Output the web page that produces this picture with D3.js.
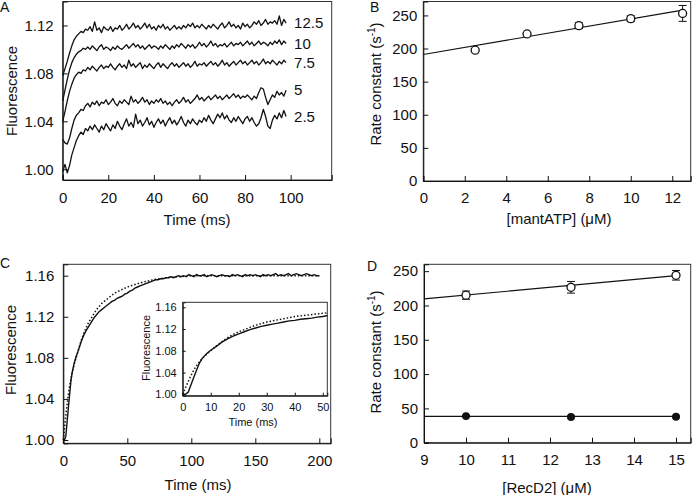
<!DOCTYPE html>
<html>
<head>
<meta charset="utf-8">
<script src="https://cdn.jsdelivr.net/npm/d3@7"></script>
<style>
  body { margin: 0; background: #fff; }
  svg { display: block; font-family: "Liberation Sans", Arial, sans-serif; }
</style>
</head>
<body>
<svg width="693" height="495"></svg>
<script>
// ---- Panel A: stopped-flow traces, one sample per ms ----
const aDt = 1;
const aLabels = ["12.5", "10", "7.5", "5", "2.5"];
const trace125 = [
  1.078,1.084,1.090,1.097,1.103,1.108,1.111,1.113,1.115,1.114,
  1.117,1.116,1.119,1.115,1.123,1.116,1.118,1.114,1.119,1.117,
  1.116,1.119,1.115,1.118,1.117,1.120,1.116,1.118,1.121,1.117,
  1.119,1.122,1.118,1.120,1.117,1.119,1.122,1.118,1.121,1.117,
  1.119,1.116,1.120,1.118,1.121,1.117,1.119,1.116,1.118,1.120,
  1.117,1.119,1.117,1.120,1.118,1.121,1.119,1.122,1.118,1.120,
  1.118,1.121,1.119,1.117,1.120,1.118,1.121,1.119,1.117,1.120,
  1.122,1.118,1.120,1.123,1.119,1.121,1.118,1.120,1.117,1.122,
  1.119,1.121,1.118,1.120,1.123,1.121,1.124,1.120,1.122,1.125,
  1.121,1.123,1.122,1.124,1.121,1.128,1.120,1.125,1.122];
const trace10 = [
  1.057,1.066,1.075,1.083,1.089,1.093,1.096,1.098,1.099,1.101,
  1.100,1.102,1.100,1.103,1.101,1.099,1.102,1.104,1.100,1.102,
  1.101,1.099,1.102,1.100,1.103,1.101,1.100,1.102,1.104,1.101,
  1.103,1.105,1.102,1.104,1.101,1.103,1.100,1.102,1.104,1.101,
  1.103,1.102,1.100,1.103,1.101,1.104,1.102,1.100,1.103,1.101,
  1.104,1.102,1.105,1.103,1.101,1.104,1.102,1.104,1.101,1.103,
  1.106,1.103,1.105,1.102,1.104,1.107,1.103,1.105,1.102,1.104,
  1.103,1.105,1.102,1.104,1.106,1.103,1.105,1.104,1.106,1.103,
  1.105,1.107,1.104,1.106,1.103,1.105,1.107,1.104,1.106,1.105,
  1.103,1.106,1.104,1.107,1.105,1.108,1.104,1.107,1.105];
const trace75 = [
  1.040,1.048,1.057,1.065,1.071,1.076,1.079,1.081,1.080,1.083,
  1.082,1.085,1.083,1.086,1.084,1.082,1.085,1.087,1.084,1.086,
  1.085,1.088,1.085,1.083,1.086,1.088,1.085,1.087,1.084,1.091,
  1.086,1.088,1.085,1.087,1.089,1.084,1.087,1.085,1.088,1.086,
  1.084,1.087,1.089,1.085,1.088,1.086,1.084,1.087,1.089,1.086,
  1.088,1.085,1.087,1.089,1.086,1.088,1.085,1.087,1.090,1.086,
  1.088,1.087,1.089,1.086,1.088,1.090,1.087,1.089,1.086,1.088,
  1.091,1.087,1.089,1.086,1.088,1.090,1.087,1.089,1.091,1.088,
  1.090,1.087,1.089,1.091,1.088,1.090,1.087,1.089,1.092,1.088,
  1.090,1.088,1.091,1.089,1.087,1.090,1.088,1.091,1.089];
const trace5 = [
  1.025,1.022,1.021,1.026,1.034,1.041,1.045,1.047,1.050,1.049,
  1.053,1.055,1.052,1.056,1.054,1.057,1.053,1.056,1.055,1.058,
  1.054,1.056,1.059,1.055,1.053,1.057,1.055,1.058,1.056,1.054,
  1.061,1.056,1.058,1.055,1.057,1.060,1.056,1.058,1.054,1.057,
  1.055,1.058,1.056,1.059,1.055,1.057,1.054,1.056,1.053,1.056,
  1.058,1.055,1.057,1.060,1.056,1.058,1.055,1.057,1.059,1.062,
  1.058,1.060,1.057,1.059,1.061,1.058,1.060,1.062,1.059,1.061,
  1.058,1.060,1.062,1.059,1.061,1.063,1.060,1.062,1.059,1.061,
  1.060,1.062,1.060,1.058,1.061,1.059,1.064,1.068,1.067,1.060,
  1.054,1.058,1.062,1.060,1.065,1.062,1.064,1.061,1.066];
const trace25 = [
  0.998,1.004,0.997,1.003,1.012,1.018,1.024,1.028,1.031,1.029,
  1.034,1.032,1.036,1.033,1.037,1.034,1.031,1.036,1.033,1.038,
  1.035,1.032,1.037,1.034,1.040,1.036,1.033,1.038,1.042,1.036,
  1.039,1.035,1.046,1.038,1.041,1.036,1.039,1.043,1.037,1.040,
  1.035,1.039,1.042,1.038,1.041,1.036,1.040,1.043,1.038,1.041,
  1.037,1.040,1.044,1.039,1.036,1.041,1.038,1.042,1.039,1.037,
  1.041,1.039,1.043,1.040,1.045,1.041,1.038,1.042,1.046,1.043,
  1.047,1.042,1.045,1.041,1.039,1.043,1.040,1.044,1.041,1.038,
  1.042,1.044,1.040,1.043,1.039,1.036,1.038,1.043,1.050,1.044,
  1.036,1.034,1.041,1.045,1.042,1.047,1.043,1.049,1.044];
const aTraces = [trace125, trace10, trace75, trace5, trace25];

// ---- Panel B: rate constant vs [mantATP] ----
const bConc = [2.5, 5, 7.5, 10, 12.5];
const bRate = [197.5, 222, 234.5, 245, 253];
const bErr = [1.5, 2, 4.5, 4.5, 12];
const bFitX = [0, 12.5];
const bFitY = [191, 258];

// ---- Panel C: single trace with fit (dotted) ----
const cTime = [0,1,2,3,4,5,6,7,8,9,10].concat(d3.range(12, 201, 2));
const cData = [
  1.000,1.000,1.004,1.018,1.032,1.045,1.058,1.066,1.072,1.077,1.081,
  1.088,1.096,1.102,1.107,1.111,1.115,1.119,1.122,1.125,1.127,
  1.129,1.131,1.133,1.135,1.136,1.138,1.139,1.140,1.142,1.143,
  1.145,1.146,1.148,1.149,1.150,1.151,1.152,1.153,1.154,1.155,
  1.156,1.156,1.157,1.157,1.158,1.158,1.159,1.158,1.159,1.160,
  1.159,1.160,1.159,1.161,1.160,1.159,1.161,1.160,1.160,1.161,
  1.159,1.160,1.161,1.160,1.159,1.160,1.161,1.160,1.160,1.159,
  1.161,1.160,1.161,1.160,1.159,1.161,1.160,1.161,1.160,1.161,
  1.160,1.159,1.161,1.160,1.161,1.160,1.161,1.162,1.160,1.161,
  1.160,1.161,1.162,1.160,1.161,1.162,1.161,1.160,1.161,1.162,
  1.161,1.160,1.161,1.160,1.160];
const cFitTime = [0,1,2,3,4,5,6,7,8,9,10,12,14,16,18,20,22,24,26,28,30,33,36,40,45,50,55,60,70,80,90,100,150,200];
const cFitVal = [1.000,1.012,1.024,1.035,1.045,1.053,1.060,1.066,1.071,1.076,1.080,1.089,1.097,1.104,1.110,1.115,
  1.119,1.123,1.127,1.130,1.133,1.136,1.139,1.143,1.146,1.149,1.151,1.153,1.156,1.158,1.159,1.160,1.160,1.160];

// ---- Panel D: rate constants vs [RecD2] ----
const dConc = [10, 12.5, 15];
const dFast = [215, 226.5, 244];
const dFastErr = [6, 8.5, 7];
const dSlow = [38.8, 37.4, 37.9];
const dSlowErr = [1, 1.5, 1];
const dFastFitX = [9, 15];
const dFastFitY = [209.5, 243.5];
const dSlowFitX = [9, 15];
const dSlowFitY = [38.5, 38.5];

const svg = d3.select("svg");
const ink = "#111";

// frame + inward ticks
function drawFrame(g, x, y, o) {
  g.append("rect")
    .attr("x", x.range()[0]).attr("y", y.range()[1])
    .attr("width", x.range()[1] - x.range()[0])
    .attr("height", y.range()[0] - y.range()[1])
    .attr("fill", o.fill || "none").attr("stroke", "#333").attr("stroke-width", 1);

  const ax = g.append("g")
    .attr("transform", `translate(0,${y.range()[0]})`)
    .call(d3.axisBottom(x).tickValues(o.xTicks).tickSize(-o.tick).tickPadding(o.xPad).tickFormat(o.xFmt || d3.format("d")));
  const ay = g.append("g")
    .attr("transform", `translate(${x.range()[0]},0)`)
    .call(d3.axisLeft(y).tickValues(o.yTicks).tickSize(-o.tick).tickPadding(o.yPad).tickFormat(o.yFmt || d3.format("d")));
  [ax, ay].forEach(a => {
    a.select(".domain").attr("stroke", ink);
    a.selectAll(".tick line").attr("stroke", ink);
    a.selectAll("text").attr("font-size", o.font).attr("fill", ink).attr("font-family", null);
  });
}

function yTitle(g, x, y, size, parts) {
  const t = g.append("text")
    .attr("transform", `translate(${x},${y}) rotate(-90)`)
    .attr("text-anchor", "middle").attr("font-size", size).attr("fill", ink);
  parts(t);
}

function xTitle(g, x, y, size, txt) {
  g.append("text").attr("x", x).attr("y", y).attr("text-anchor", "middle")
    .attr("font-size", size).attr("fill", ink).text(txt);
}

function letter(x, y, txt) {
  svg.append("text").attr("x", x).attr("y", y).attr("font-size", 14).attr("fill", ink).text(txt);
}

function rateTitle(t) {
  t.append("tspan").text("Rate constant (s");
  t.append("tspan").attr("font-size", 10).attr("dy", -6).text("-1");
  t.append("tspan").attr("dy", 6).text(")");
}

// error bar points
function points(g, x, y, xs, ys, errs, filled, r) {
  const cap = 4;
  xs.forEach((v, i) => {
    const cx = x(v), lo = y(ys[i] - errs[i]), hi = y(ys[i] + errs[i]);
    g.append("line").attr("x1", cx).attr("x2", cx).attr("y1", lo).attr("y2", hi).attr("stroke", ink);
    g.append("line").attr("x1", cx - cap).attr("x2", cx + cap).attr("y1", lo).attr("y2", lo).attr("stroke", ink);
    g.append("line").attr("x1", cx - cap).attr("x2", cx + cap).attr("y1", hi).attr("y2", hi).attr("stroke", ink);
    g.append("circle").attr("cx", cx).attr("cy", y(ys[i])).attr("r", r)
      .attr("fill", filled ? ink : "#fff").attr("stroke", ink).attr("stroke-width", 1.3);
  });
}

function fitLine(g, x, y, xs, ys) {
  g.append("path")
    .attr("d", d3.line().x(d => x(d[0])).y(d => y(d[1]))(xs.map((v, i) => [v, ys[i]])))
    .attr("fill", "none").attr("stroke", ink).attr("stroke-width", 1.2);
}

// ---------- A ----------
{
  const g = svg.append("g");
  const x = d3.scaleLinear().domain([0, 118]).range([62.7, 331.7]);
  const y = d3.scaleLinear().domain([0.991, 1.140]).range([180, 1.5]);
  drawFrame(g, x, y, { xTicks: d3.range(0, 101, 20), yTicks: [1.00, 1.04, 1.08, 1.12],
    yFmt: d3.format(".2f"), tick: 5, xPad: 12, yPad: 9, font: 15 });
  const line = d3.line().x((d, i) => x(i * aDt)).y(d => y(d));
  aTraces.forEach((tr, k) => {
    g.append("path").attr("d", line(tr)).attr("fill", "none")
      .attr("stroke", ink).attr("stroke-width", 1.3).attr("stroke-linejoin", "round");
    g.append("text").attr("x", x(101.5)).attr("y", y(tr[tr.length - 1])).attr("dy", "0.35em")
      .attr("font-size", 15).attr("fill", ink).text(aLabels[k]);
  });
  yTitle(g, 17, 91, 15, t => t.text("Fluorescence"));
  xTitle(g, 197, 225, 15, "Time (ms)");
  letter(0, 12, "A");
}

// ---------- B ----------
{
  const g = svg.append("g");
  const x = d3.scaleLinear().domain([0, 12.89]).range([423.3, 690.7]);
  const y = d3.scaleLinear().domain([0, 271]).range([181, 1.5]);
  drawFrame(g, x, y, { xTicks: d3.range(0, 13, 2), yTicks: d3.range(0, 251, 50),
    tick: 5, xPad: 11, yPad: 6, font: 15 });
  fitLine(g, x, y, bFitX, bFitY);
  points(g, x, y, bConc, bRate, bErr, false, 4);
  yTitle(g, 381, 84, 15, rateTitle);
  xTitle(g, 559, 224, 15, "[mantATP] (\u03bcM)");
  letter(370, 12, "B");
}

// ---------- C ----------
{
  const g = svg.append("g");
  const x = d3.scaleLinear().domain([0, 208.9]).range([63.3, 330.7]);
  const y = d3.scaleLinear().domain([0.9968, 1.1711]).range([443.3, 264.3]);
  drawFrame(g, x, y, { xTicks: d3.range(0, 201, 50), yTicks: [1.00, 1.04, 1.08, 1.12, 1.16],
    yFmt: d3.format(".2f"), tick: 5, xPad: 12, yPad: 9, font: 15 });
  const pts = cTime.map((t, i) => [t, cData[i]]);
  const fit = cFitTime.map((t, i) => [t, cFitVal[i]]);
  const ln = d3.line().x(d => x(d[0])).y(d => y(d[1]));
  g.append("path").attr("d", ln(pts)).attr("fill", "none").attr("stroke", ink).attr("stroke-width", 1.4);
  g.append("path").attr("d", ln(fit)).attr("fill", "none").attr("stroke", ink)
    .attr("stroke-width", 1.5).attr("stroke-dasharray", "1.5,2");
  yTitle(g, 16, 350, 15, t => t.text("Fluorescence"));
  xTitle(g, 198, 490, 15, "Time (ms)");
  letter(0, 268, "C");

  // inset
  const ix = d3.scaleLinear().domain([0, 51.6]).range([182.7, 327.3]);
  const iy = d3.scaleLinear().domain([0.9974, 1.1692]).range([395.7, 302.3]);
  drawFrame(g, ix, iy, { xTicks: d3.range(0, 51, 10), yTicks: [1.00, 1.04, 1.08, 1.12, 1.16],
    yFmt: d3.format(".2f"), tick: 3, xPad: 8, yPad: 6, font: 11, fill: "#fff" });
  svg.append("clipPath").attr("id", "inset").append("rect")
    .attr("x", 182.7).attr("y", 302.3).attr("width", 144.6).attr("height", 93.4);
  const iln = d3.line().x(d => ix(d[0])).y(d => iy(d[1]));
  const ig = g.append("g").attr("clip-path", "url(#inset)");
  ig.append("path").attr("d", iln(pts)).attr("fill", "none").attr("stroke", ink).attr("stroke-width", 1.4);
  ig.append("path").attr("d", iln(fit)).attr("fill", "none").attr("stroke", ink)
    .attr("stroke-width", 1.5).attr("stroke-dasharray", "1.5,2");
  yTitle(g, 150, 348, 11, t => t.text("Fluorescence"));
  xTitle(g, 253, 426, 11, "Time (ms)");
}

// ---------- D ----------
{
  const g = svg.append("g");
  const x = d3.scaleLinear().domain([9, 15.35]).range([424, 690.7]);
  const y = d3.scaleLinear().domain([0, 260]).range([442.7, 264.3]);
  drawFrame(g, x, y, { xTicks: d3.range(9, 16, 1), yTicks: d3.range(0, 251, 50),
    tick: 5, xPad: 12, yPad: 6, font: 15 });
  fitLine(g, x, y, dFastFitX, dFastFitY);
  fitLine(g, x, y, dSlowFitX, dSlowFitY);
  points(g, x, y, dConc, dFast, dFastErr, false, 4);
  points(g, x, y, dConc, dSlow, dSlowErr, true, 3.3);
  yTitle(g, 381, 352, 15, rateTitle);
  xTitle(g, 547, 493, 15, "[RecD2] (\u03bcM)");
  letter(367, 271, "D");
}
</script>
</body>
</html>
